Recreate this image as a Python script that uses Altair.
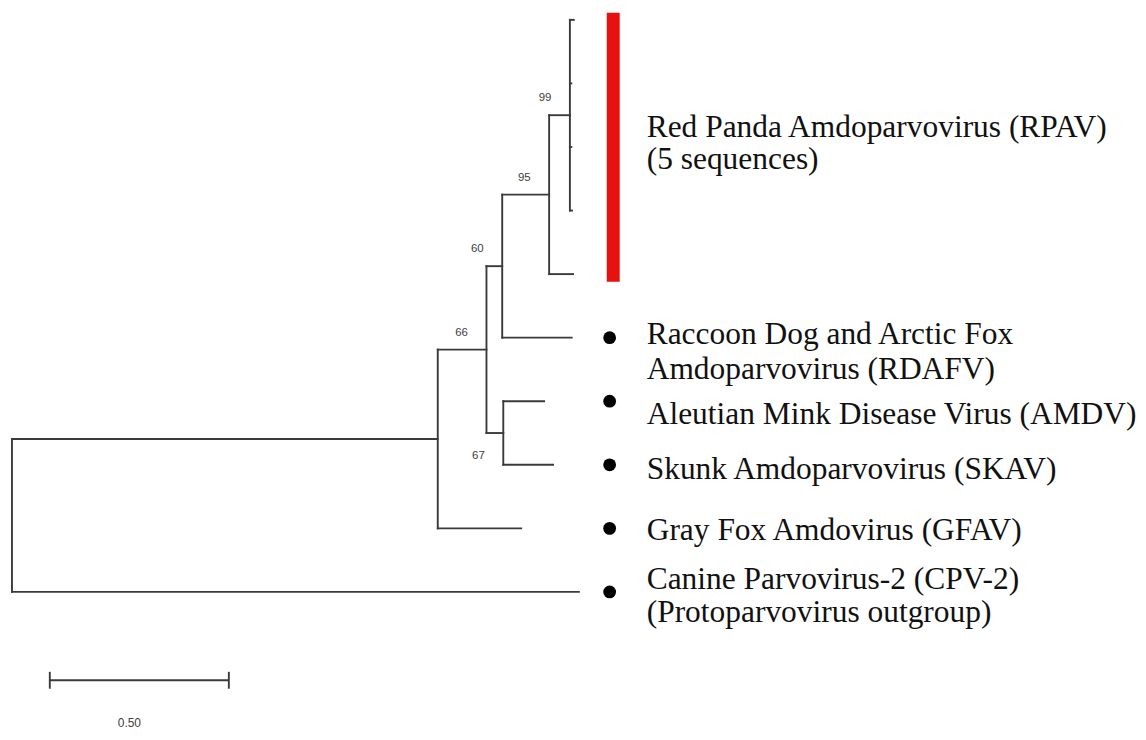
import altair as alt
import pandas as pd

# ---------------- data ----------------
tips = ["RPAV-1", "RPAV-2", "RPAV-3", "RPAV-4", "RPAV-5",
        "RDAFV", "AMDV", "SKAV", "GFAV", "CPV-2"]

edge_child = ["N1", "CPV-2", "N2", "GFAV", "N3", "N6", "N4", "RDAFV",
              "N5", "RPAV-5", "RPAV-1", "RPAV-2", "RPAV-3", "RPAV-4",
              "AMDV", "SKAV"]
edge_parent = ["root", "root", "N1", "N1", "N2", "N2", "N3", "N3",
               "N4", "N4", "N5", "N5", "N5", "N5", "N6", "N6"]
edge_length = [1.189, 1.583, 0.136, 0.233, 0.044, 0.047, 0.131, 0.194,
               0.058, 0.067, 0.011, 0.004, 0.004, 0.006, 0.114, 0.139]

support_node = ["N5", "N4", "N3", "N2", "N6"]
support_value = ["99", "95", "60", "66", "67"]

groups = ["RPAV", "RDAFV", "AMDV", "SKAV", "GFAV", "CPV-2"]
group_members = [["RPAV-1", "RPAV-2", "RPAV-3", "RPAV-4", "RPAV-5"],
                 ["RDAFV"], ["AMDV"], ["SKAV"], ["GFAV"], ["CPV-2"]]
group_labels = [
    ["Red Panda Amdoparvovirus (RPAV)", "(5 sequences)"],
    ["Raccoon Dog and Arctic Fox", "Amdoparvovirus (RDAFV)"],
    ["Aleutian Mink Disease Virus (AMDV)"],
    ["Skunk Amdoparvovirus (SKAV)"],
    ["Gray Fox Amdovirus (GFAV)"],
    ["Canine Parvovirus-2 (CPV-2)", "(Protoparvovirus outgroup)"],
]

scale_bar_length = 0.50
scale_bar_text = "0.50"

# ---------------- tree layout ----------------
depth = {"root": 0.0}
pending = list(zip(edge_child, edge_parent, edge_length))
while pending:
    rest = []
    for c, p, l in pending:
        if p in depth:
            depth[c] = depth[p] + l
        else:
            rest.append((c, p, l))
    pending = rest

children = {}
for c, p in zip(edge_child, edge_parent):
    children.setdefault(p, []).append(c)

ypos = {t: float(i) for i, t in enumerate(tips)}


def node_y(n):
    if n in ypos:
        return ypos[n]
    ys = [node_y(c) for c in children[n]]
    ypos[n] = (min(ys) + max(ys)) / 2
    return ypos[n]


node_y("root")

segs = []
for c, p in zip(edge_child, edge_parent):
    segs.append({"x": depth[p], "x2": depth[c], "y": ypos[c], "y2": ypos[c]})
for n, ch in children.items():
    ys = [ypos[c] for c in ch]
    segs.append({"x": depth[n], "x2": depth[n], "y": min(ys), "y2": max(ys)})
seg_df = pd.DataFrame(segs)

sup_df = pd.DataFrame({
    "x": [depth[n] for n in support_node],
    "y": [ypos[n] for n in support_node],
    "t": support_value,
})

tree_right = max(depth[t] for t in tips)
DOT_X = tree_right + 0.086
BAR_X = tree_right + 0.096
LABEL_X = tree_right + 0.1895

lab_rows = []
for g, mem, lab in zip(groups, group_members, group_labels):
    ys = [ypos[m] for m in mem]
    lab_rows.append({"g": g, "x": LABEL_X, "y": sum(ys) / len(ys), "t": lab,
                     "y0": min(ys), "y1": max(ys)})
lab_df = pd.DataFrame(lab_rows)

dot_df = pd.DataFrame({"x": [DOT_X] * 5, "y": [ypos[m[0]] for m in group_members[1:]]})
bar_df = pd.DataFrame({"x": [BAR_X], "y": [lab_rows[0]["y0"] - 0.11],
                       "y2": [lab_rows[0]["y1"] + 0.12]})

SB_Y = len(tips) - 1 + 1.39
SB_X = 0.1056
sb_df = pd.DataFrame({"x": [SB_X], "x2": [SB_X + scale_bar_length], "y": [SB_Y]})
sb_end_df = pd.DataFrame({"x": [SB_X, SB_X + scale_bar_length],
                          "y": [SB_Y - 0.133] * 2, "y2": [SB_Y + 0.133] * 2})
sb_txt_df = pd.DataFrame({"x": [SB_X + scale_bar_length / 2], "y": [SB_Y],
                          "t": [scale_bar_text]})

# ---------------- chart ----------------
W, H = 1136, 724
PXU, PXT = 360.0, 63.9
x0, y0 = -4 / PXU, -10 / PXT
xs = alt.Scale(domain=[x0, x0 + W / PXU], nice=False, zero=False)
ys_ = alt.Scale(domain=[y0, y0 + H / PXT], nice=False, zero=False, reverse=True)

X = lambda f="x": alt.X(f"{f}:Q", scale=xs, axis=None)
Y = lambda f="y": alt.Y(f"{f}:Q", scale=ys_, axis=None)

LINE = "#3a3a3a"

tree = alt.Chart(seg_df).mark_rule(color=LINE, strokeWidth=1.9, strokeCap="square").encode(
    x=X(), x2="x2:Q", y=Y(), y2="y2:Q")

sup_above = alt.Chart(sup_df).transform_filter("datum.t != '67'").mark_text(
    font="Liberation Sans", fontSize=11.5, color="#404040", dx=-25, dy=-17,
    align="center", baseline="middle").encode(x=X(), y=Y(), text="t:N")
sup_below = alt.Chart(sup_df).transform_filter("datum.t == '67'").mark_text(
    font="Liberation Sans", fontSize=11.5, color="#404040", dx=-25, dy=23,
    align="center", baseline="middle").encode(x=X(), y=Y(), text="t:N")

red_bar = alt.Chart(bar_df).mark_rule(color="#e5120f", strokeWidth=13, strokeCap="butt").encode(
    x=X(), y=Y(), y2="y2:Q")

dots = alt.Chart(dot_df).mark_point(filled=True, color="#000000", size=165, opacity=1).encode(
    x=X(), y=Y())

# (dy of first line, line height) for each label block
label_style = {"RPAV": (-19, 32), "RDAFV": (-3, 36), "AMDV": (14, 31),
               "SKAV": (5, 31), "GFAV": (3, 31), "CPV-2": (-12, 33)}
label_layers = []
for g in groups:
    dy, lh = label_style[g]
    label_layers.append(
        alt.Chart(lab_df).transform_filter(alt.datum.g == g).mark_text(
            font="Liberation Serif", fontSize=31.6, color="#111111", align="left",
            baseline="middle", dy=dy, lineHeight=lh).encode(x=X(), y=Y(), text="t"))

sb = alt.Chart(sb_df).mark_rule(color=LINE, strokeWidth=1.9).encode(x=X(), x2="x2:Q", y=Y())
sb_ends = alt.Chart(sb_end_df).mark_rule(color=LINE, strokeWidth=1.9).encode(x=X(), y=Y(), y2="y2:Q")
sb_txt = alt.Chart(sb_txt_df).mark_text(
    font="Liberation Sans", fontSize=12, color="#404040", dx=-10, dy=43,
    align="center", baseline="middle").encode(x=X(), y=Y(), text="t:N")

chart = alt.layer(tree, sup_above, sup_below, red_bar, dots, *label_layers,
                  sb, sb_ends, sb_txt).properties(
    width=W, height=H, padding=0,
    autosize=alt.AutoSizeParams(type="none"),
    background="white",
).configure_view(strokeWidth=0)

chart.save("out.html", embed_options={"renderer": "svg", "actions": False})
